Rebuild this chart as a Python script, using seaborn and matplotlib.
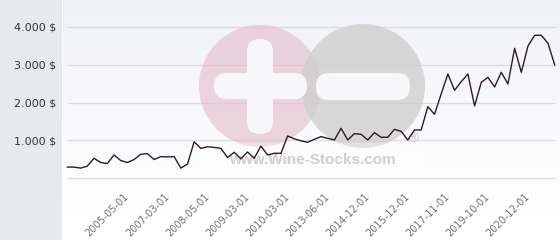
import numpy as np
import matplotlib
matplotlib.use("Agg")
import matplotlib.pyplot as plt
import seaborn as sns
from matplotlib.patches import Circle, FancyBboxPatch, Rectangle

# ---- data ----
prices = [296, 296, 270, 322, 530, 417, 391, 617, 470, 417,
          496, 635, 652, 496, 574, 565, 574, 270, 374, 965,
          791, 835, 817, 791, 548, 687, 513, 696, 530, 852,
          617, 661, 661, 1120, 1043, 991, 952, 1031, 1101, 1057,
          1013, 1322, 1013, 1181, 1163, 1013, 1207, 1084, 1084, 1295,
          1242, 1013, 1278, 1278, 1894, 1692, 2229, 2758, 2326, 2555,
          2758, 1912, 2537, 2670, 2414, 2802, 2493, 3436, 2802, 3498,
          3780, 3780, 3568, 2996]
point_index = list(range(len(prices)))
tick_labels = ["2005-05-01", "2007-03-01", "2008-05-01", "2009-03-01",
               "2010-03-01", "2013-06-01", "2014-12-01", "2015-12-01",
               "2017-11-01", "2019-10-01", "2020-12-01"]
tick_positions = [9, 15, 21, 27, 33, 39, 45, 51, 57, 63, 69]
y_ticks = [0, 1000, 2000, 3000, 4000]
y_labels = ["", "1.000 $", "2.000 $", "3.000 $", "4.000 $"]

W, H = 560, 240
fig = plt.figure(figsize=(W / 100, H / 100), dpi=100)
fig.patch.set_facecolor("white")

# background axes in pixel coordinates
bg = fig.add_axes([0, 0, 1, 1], zorder=0)
bg.set_xlim(0, W)
bg.set_ylim(H, 0)
bg.axis("off")
grad = np.linspace(0, 1, 200)[:, None]
top = np.array([0xf1, 0xf2, 0xf7]) / 255
bot = np.array([1.0, 1.0, 1.0])
img = top[None, None, :] * (1 - grad[..., None]) + bot[None, None, :] * grad[..., None]
img = np.repeat(img, 2, axis=1)
bg.imshow(img, extent=(63, W, 215, 0), aspect="auto", interpolation="bilinear")
bg.add_patch(Rectangle((0, 0), 62, H, facecolor="#e6eaee", edgecolor="none"))

# main axes
px_per_unit = 37.83 / 1000
x0_px, dx_px = 67.3, 6.673
ax_left, ax_right, ax_top, ax_bottom = 63, 560, 0, 185
ax = fig.add_axes([ax_left / W, 1 - ax_bottom / H,
                   (ax_right - ax_left) / W, (ax_bottom - ax_top) / H], zorder=1)
ax.patch.set_alpha(0)
ax.set_xlim(-(x0_px - ax_left) / dx_px, 73 + (ax_right - 554.7) / dx_px)
ax.set_ylim(-(ax_bottom - 178.3) / px_per_unit, 178.3 / px_per_unit)
for s in ax.spines.values():
    s.set_visible(False)

ax.hlines(y_ticks, -0.1, 73.05, colors="#dddddd", linewidth=1, zorder=0.5)

# watermark (in pixel coords of bg axes)
T = bg.transData
wm = [
    Circle((260, 86), 61, facecolor="#e6bfcc", edgecolor="none", alpha=0.65, transform=T),
    Circle((363, 86), 62, facecolor="#cfcfcf", edgecolor="none", alpha=0.8, transform=T),
    FancyBboxPatch((247, 39), 26, 95, boxstyle="round,pad=0,rounding_size=13",
                   facecolor="#f7f7fa", edgecolor="none", transform=T),
    FancyBboxPatch((214, 73), 93, 26, boxstyle="round,pad=0,rounding_size=13",
                   facecolor="#f7f7fa", edgecolor="none", transform=T),
    FancyBboxPatch((316, 73), 94, 27, boxstyle="round,pad=0,rounding_size=13",
                   facecolor="#f7f7fa", edgecolor="none", transform=T),
    Rectangle((197, 143), 230, 30, facecolor="white", edgecolor="none", alpha=0.3, transform=T),
]
for p in wm:
    p.set_zorder(1.5)
    p.set_clip_on(False)
    ax.add_artist(p)
ax.text(312, 160, "www.Wine-Stocks.com", transform=T, ha="center", va="center",
        fontsize=11, fontweight="bold", family="Liberation Sans", color="#cfcfcf",
        zorder=1.6)
ax.text(413, 139, "\u00ae", transform=T, ha="center", va="center", fontsize=10,
        color="#cccccc", zorder=1.6)

sns.lineplot(x=point_index, y=prices, ax=ax, color="#2e1a28", linewidth=1.0, zorder=3)

ax.set_xticks(tick_positions)
ax.set_xticklabels(tick_labels, rotation=45, ha="right", va="center",
                   rotation_mode="anchor", fontsize=7, color="#707070")
ax.set_yticks(y_ticks)
ax.set_yticklabels(y_labels, fontsize=8, color="#333333")
ax.tick_params(axis="both", length=0)
ax.tick_params(axis="x", pad=7)
ax.tick_params(axis="y", pad=5)
ax.set_xlabel("")
ax.set_ylabel("")
ax.grid(False)

fig.savefig("out.png", dpi=100)
